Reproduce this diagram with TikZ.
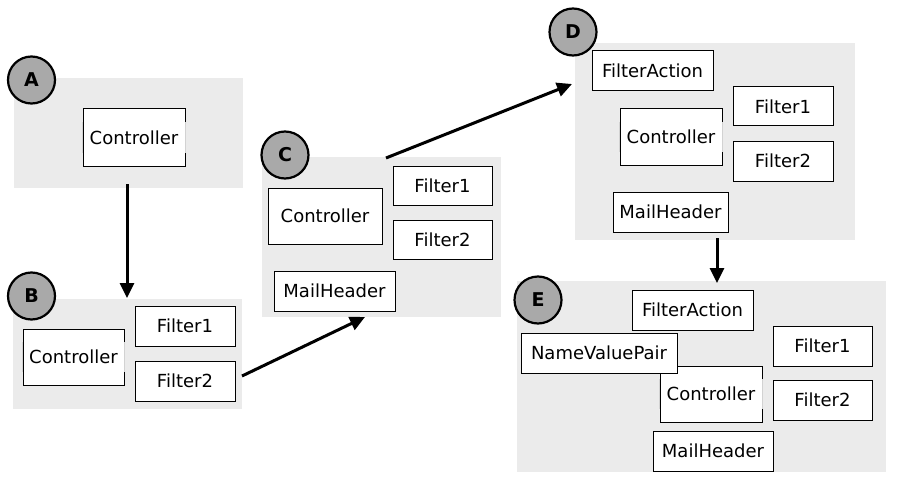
\documentclass[tikz,border=0pt]{standalone}
\usepackage{fontspec}
\setmainfont{DejaVu Sans}
\usetikzlibrary{arrows.meta,calc}
\definecolor{panelgray}{HTML}{EBEBEB}
\definecolor{badgegray}{HTML}{A9A9A9}
\tikzset{
  panel/.style={fill=panelgray, draw=none, inner sep=0pt, anchor=north west},
  badge/.style={circle, draw=black, line width=1.1pt, fill=badgegray,
    minimum size=23.5pt, inner sep=0pt, font=\bfseries\fontsize{9.5}{11}\selectfont},
  classbox/.style={draw=black, line width=0.5pt, fill=white, inner sep=0pt,
    font=\fontsize{9}{10}\selectfont},
  flow/.style={line width=1.5pt, -{Triangle[length=7.5pt,width=7pt]}},
  gapline/.style={draw=white!65!gray, line width=0.6pt}
}
% faded middle part of the side edges of a box
\newcommand\fadesides[1]{%
  \draw[gapline] ($(#1.west)+(0,-15)$) -- ($(#1.west)+(0,15)$);
  \draw[gapline] ($(#1.east)+(0,-15)$) -- ($(#1.east)+(0,15)$);}
\begin{document}
\begin{tikzpicture}[x=0.5pt,y=-0.5pt]
\useasboundingbox (0,0) rectangle (904,481);

% ---- stage panels
\node[panel, minimum width=114.5pt, minimum height=55pt]  (pA) at (14,78)  {};
\node[panel, minimum width=114.5pt, minimum height=55pt]  (pB) at (13,299) {};
\node[panel, minimum width=119.5pt, minimum height=80pt]  (pC) at (262,157) {};
\node[panel, minimum width=140pt,   minimum height=98.5pt] (pD) at (575,43) {};
\node[panel, minimum width=184.5pt, minimum height=95.5pt] (pE) at (517,281) {};

% ---- stage A
\node[classbox, minimum width=51pt, minimum height=28.5pt] (aCtl) at (134,137.5) {Controller};
\fadesides{aCtl}

% ---- stage B
\node[classbox, minimum width=50.5pt, minimum height=28pt] (bCtl) at (73.5,357) {Controller};
\fadesides{bCtl}
\node[classbox, minimum width=50pt, minimum height=20pt] (bF1) at (185,326) {Filter1};
\node[classbox, minimum width=50pt, minimum height=20pt] (bF2) at (185,381) {Filter2};

% ---- stage C
\node[classbox, minimum width=57pt, minimum height=28pt] (cCtl) at (325,216) {Controller};
\node[classbox, minimum width=49.5pt, minimum height=19.5pt] (cF1) at (442.5,185.5) {Filter1};
\node[classbox, minimum width=49.5pt, minimum height=19.5pt] (cF2) at (442.5,239.5) {Filter2};
\node[classbox, minimum width=60.5pt, minimum height=20pt] (cMH) at (334.5,291) {MailHeader};

% ---- stage D
\node[classbox, minimum width=60.5pt, minimum height=20pt] (dFA) at (652.5,71) {FilterAction};
\node[classbox, minimum width=50pt, minimum height=19.5pt] (dF1) at (783,106.5) {Filter1};
\node[classbox, minimum width=51pt, minimum height=28pt] (dCtl) at (671,137) {Controller};
\fadesides{dCtl}
\node[classbox, minimum width=50pt, minimum height=20pt] (dF2) at (783,161) {Filter2};
\node[classbox, minimum width=57.5pt, minimum height=20pt] (dMH) at (670.5,212) {MailHeader};

% ---- stage E
\node[classbox, minimum width=60.5pt, minimum height=20pt] (eFA) at (692.5,310) {FilterAction};
\node[classbox, minimum width=49.5pt, minimum height=20pt] (eF1) at (822.5,346) {Filter1};
\node[classbox, minimum width=51pt, minimum height=28pt] (eCtl) at (711,394) {Controller};
\fadesides{eCtl}
\node[classbox, minimum width=78pt, minimum height=20pt] (eNVP) at (599,353) {NameValuePair};
\node[classbox, minimum width=49.5pt, minimum height=20pt] (eF2) at (822.5,400) {Filter2};
\node[classbox, minimum width=60pt, minimum height=20pt] (eMH) at (713,451) {MailHeader};

% ---- stage badges
\node[badge] (bdA) at (31.5,80)  {A};
\node[badge] (bdB) at (31.5,296) {B};
\node[badge] (bdC) at (285,155)  {C};
\node[badge] (bdD) at (573,32)   {D};
\node[badge] (bdE) at (538,300)  {E};

% ---- transitions between stages
\coordinate (ab0) at (127,184);
\coordinate (ab1) at (127,298);
\coordinate (bc0) at (242,376);
\coordinate (bc1) at (365,317);
\coordinate (cd0) at (386,158);
\coordinate (cd1) at (572,84);
\coordinate (de0) at (717,238);
\coordinate (de1) at (717,283);
\draw[flow] (ab0) -- (ab1);
\draw[flow] (bc0) -- (bc1);
\draw[flow] (cd0) -- (cd1);
\draw[flow] (de0) -- (de1);
\end{tikzpicture}
\end{document}
